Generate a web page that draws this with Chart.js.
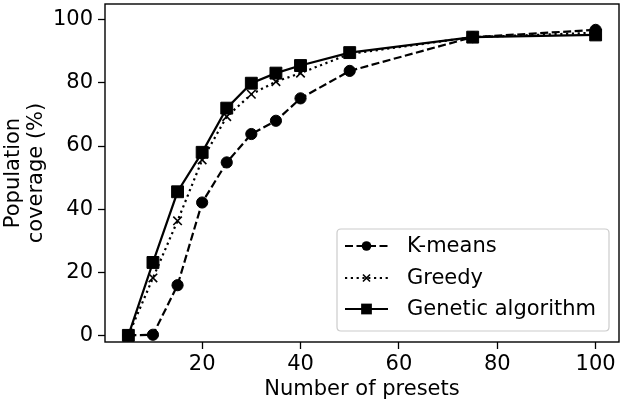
<!DOCTYPE html>
<html><head><meta charset="utf-8">
<script src="https://cdn.jsdelivr.net/npm/chart.js@4.4.1/dist/chart.umd.min.js"></script>
<style>html,body{margin:0;padding:0;background:#fff}#wrap{width:624px;height:405px;position:relative}</style>
</head><body><div id="wrap"><canvas id="c" width="624" height="405"></canvas></div>
<script>
const presets = [5, 10, 15, 20, 25, 30, 35, 40, 50, 75, 100];
const kmeans  = [0, 0.2, 15.9, 42.1, 54.8, 63.8, 68.0, 75.1, 83.8, 94.5, 96.8];
const greedy  = [0, 18.2, 36.3, 55.6, 69.3, 76.4, 80.4, 83.1, 89.2, 94.5, 95.9];
const genetic = [0, 23.1, 45.5, 58.0, 72.0, 79.9, 83.1, 85.5, 89.6, 94.5, 95.2];
const seriesNames = ['K-means', 'Greedy', 'Genetic algorithm'];
const xTicks = [20, 40, 60, 80, 100];
const yTicks = [0, 20, 40, 60, 80, 100];
const xTitle = 'Number of presets';
const yTitle = ['Population', 'coverage (%)'];

const FONT = "'DejaVu Sans', 'Liberation Sans', sans-serif";
const toPts = (ys) => presets.map((x, i) => ({x: x, y: ys[i]}));

const styles = [
  {dash: [8, 3.5], point: 'circle', radius: 5.6, pw: 1},
  {dash: [2.2, 3.6], point: 'crossRot', radius: 6, pw: 1.6},
  {dash: [], point: 'rect', radius: 8.4, pw: 1}
];
const seriesData = [kmeans, greedy, genetic];

const datasets = seriesData.map((d, i) => ({
  label: seriesNames[i],
  data: toPts(d),
  borderColor: '#000',
  backgroundColor: '#000',
  borderWidth: 2.2,
  borderDash: styles[i].dash,
  pointStyle: styles[i].point,
  pointRadius: styles[i].radius,
  pointBorderWidth: styles[i].pw,
  pointBackgroundColor: '#000',
  pointBorderColor: '#000',
  tension: 0,
  fill: false,
  clip: false
}));

function drawMarker(ctx, style, x, y, r, lw) {
  ctx.save();
  ctx.setLineDash([]);
  ctx.fillStyle = '#000';
  ctx.strokeStyle = '#000';
  ctx.lineWidth = lw;
  ctx.beginPath();
  if (style === 'circle') {
    ctx.arc(x, y, r, 0, Math.PI * 2);
    ctx.fill();
  } else if (style === 'rect') {
    const s = Math.SQRT1_2 * r;
    ctx.rect(x - s, y - s, 2 * s, 2 * s);
    ctx.fill();
  } else {
    const s = Math.SQRT1_2 * r;
    ctx.moveTo(x - s, y - s); ctx.lineTo(x + s, y + s);
    ctx.moveTo(x - s, y + s); ctx.lineTo(x + s, y - s);
    ctx.stroke();
  }
  ctx.restore();
}

const framePlugin = {
  id: 'frame',
  beforeDatasetsDraw(chart) {
    const {ctx, chartArea: a} = chart;
    ctx.save();
    ctx.strokeStyle = '#000';
    ctx.lineWidth = 1.4;
    ctx.strokeRect(a.left, a.top, a.right - a.left, a.bottom - a.top);
    ctx.restore();
  }
};

const legendPlugin = {
  id: 'customLegend',
  afterDatasetsDraw(chart) {
    const {ctx, chartArea: a} = chart;
    const w = 272, h = 102;
    const x0 = a.right - 10 - w, y0 = a.bottom - 11 - h;
    const r = 4;
    ctx.save();
    ctx.beginPath();
    ctx.moveTo(x0 + r, y0);
    ctx.lineTo(x0 + w - r, y0); ctx.quadraticCurveTo(x0 + w, y0, x0 + w, y0 + r);
    ctx.lineTo(x0 + w, y0 + h - r); ctx.quadraticCurveTo(x0 + w, y0 + h, x0 + w - r, y0 + h);
    ctx.lineTo(x0 + r, y0 + h); ctx.quadraticCurveTo(x0, y0 + h, x0, y0 + h - r);
    ctx.lineTo(x0, y0 + r); ctx.quadraticCurveTo(x0, y0, x0 + r, y0);
    ctx.closePath();
    ctx.fillStyle = 'rgba(255,255,255,0.8)';
    ctx.fill();
    ctx.strokeStyle = '#cccccc';
    ctx.lineWidth = 1.2;
    ctx.stroke();
    const rows = [17, 49, 80];
    seriesNames.forEach((name, i) => {
      const y = y0 + rows[i];
      const lx0 = x0 + 8, lx1 = x0 + 51;
      ctx.save();
      ctx.strokeStyle = '#000';
      ctx.lineWidth = 2.2;
      ctx.setLineDash(styles[i].dash);
      ctx.beginPath();
      ctx.moveTo(lx0, y); ctx.lineTo(lx1, y);
      ctx.stroke();
      ctx.restore();
      drawMarker(ctx, styles[i].point, (lx0 + lx1) / 2, y,
        styles[i].point === 'rect' ? 7.6 : (styles[i].point === 'circle' ? 4.8 : 5),
        styles[i].pw);
      ctx.fillStyle = '#000';
      ctx.font = '21px ' + FONT;
      ctx.textBaseline = 'middle';
      ctx.textAlign = 'left';
      ctx.fillText(name, x0 + 70, y + 1);
    });
    ctx.restore();
  }
};

new Chart(document.getElementById('c'), {
  type: 'line',
  data: {datasets},
  options: {
    responsive: false,
    animation: false,
    devicePixelRatio: 1,
    layout: {autoPadding: false, padding: {top: 4, right: 5, left: 0, bottom: 0}},
    plugins: {legend: {display: false}, tooltip: {enabled: false}},
    scales: {
      x: {
        type: 'linear',
        min: 0.25, max: 104.75,
        afterBuildTicks: (s) => { s.ticks = xTicks.map(v => ({value: v})); },
        afterFit: (s) => { s.height = 63; s.paddingLeft = 0; s.paddingRight = 0; },
        border: {display: false},
        grid: {drawOnChartArea: false, drawTicks: true, tickLength: 7, tickWidth: 1.3, tickColor: '#000'},
        ticks: {color: '#000', font: {family: FONT, size: 21}, padding: 3, maxRotation: 0, autoSkip: false},
        title: {display: true, text: xTitle, color: '#000', font: {family: FONT, size: 21}, padding: {top: 0, bottom: 3}}
      },
      y: {
        type: 'linear',
        min: -2.1, max: 105,
        afterBuildTicks: (s) => { s.ticks = yTicks.map(v => ({value: v})); },
        afterFit: (s) => { s.width = 105; s.paddingTop = 0; s.paddingBottom = 0; },
        border: {display: false},
        grid: {drawOnChartArea: false, drawTicks: true, tickLength: 7, tickWidth: 1.3, tickColor: '#000'},
        ticks: {color: '#000', font: {family: FONT, size: 21}, padding: 5, autoSkip: false},
        title: {display: true, text: yTitle, color: '#000', font: {family: FONT, size: 21, lineHeight: 1.1}, padding: {top: 2, bottom: 0}}
      }
    }
  },
  plugins: [framePlugin, legendPlugin]
});
</script>
</body></html>
